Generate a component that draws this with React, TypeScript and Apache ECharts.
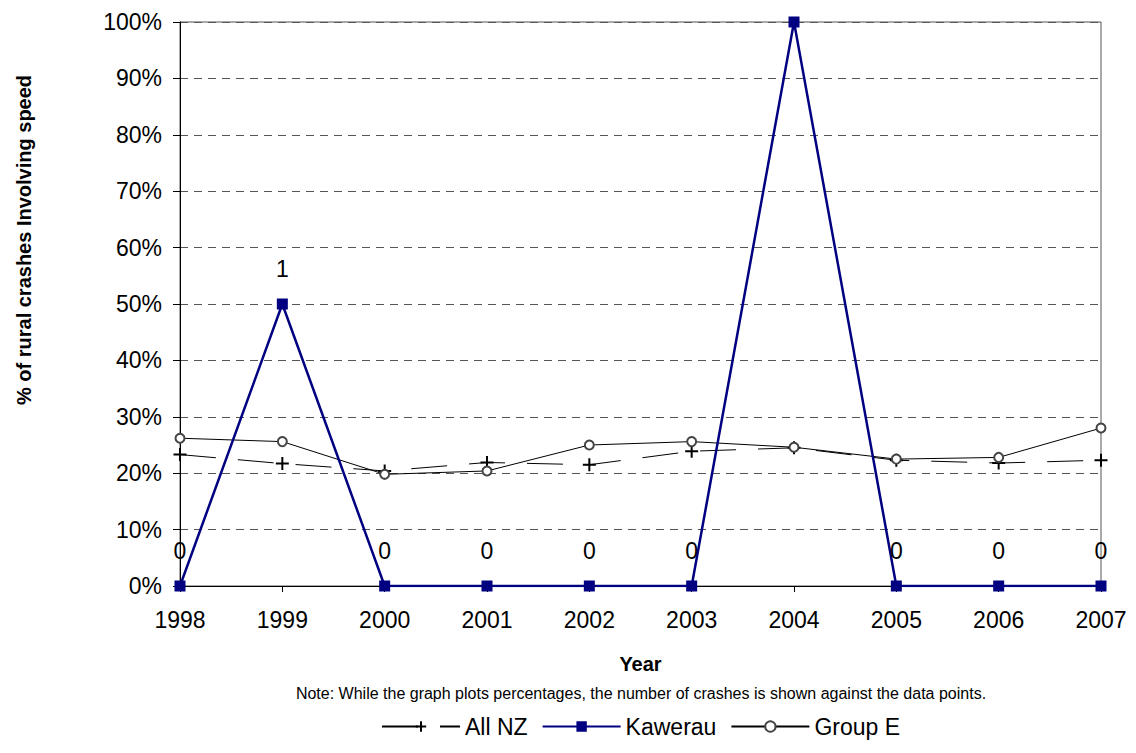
import React, { useEffect, useRef } from "react";
import * as echarts from "echarts";

const years = ["1998", "1999", "2000", "2001", "2002", "2003", "2004", "2005", "2006", "2007"];
const allNZ = [23.3, 21.7, 20.4, 21.9, 21.5, 23.9, 24.5, 22.3, 21.8, 22.3];
const kawerau = [0, 50, 0, 0, 0, 0, 100, 0, 0, 0];
const groupE = [26.2, 25.6, 19.8, 20.4, 25.0, 25.6, 24.6, 22.5, 22.8, 28.0];
const crashCounts = ["0", "1", "0", "0", "0", "0", "", "0", "0", "0"];
const yTicks = { min: 0, max: 100, interval: 10 };

const FONT = "'Liberation Sans', Arial, sans-serif";

export default function App() {
  const ref = useRef<HTMLDivElement>(null);
  useEffect(() => {
    if (!ref.current) return;
    const chart = echarts.init(ref.current, undefined, { renderer: "svg" });
    chart.setOption({
      animation: false,
      backgroundColor: "#ffffff",
      textStyle: { fontFamily: FONT },
      grid: {
        left: 180,
        right: 35,
        top: 22,
        bottom: 167,
        show: true,
        borderColor: "#555555",
        borderWidth: 1,
        backgroundColor: "transparent",
      },
      legend: {
        bottom: 10,
        left: 376,
        itemWidth: 78,
        itemHeight: 13,
        itemGap: 14,
        textStyle: { fontFamily: FONT, fontSize: 23, color: "#000" },
        data: ["All NZ", "Kawerau", "Group E"],
      },
      xAxis: {
        type: "category",
        data: years,
        boundaryGap: false,
        name: "Year",
        nameLocation: "middle",
        nameGap: 68,
        nameTextStyle: { fontFamily: FONT, fontSize: 20, fontWeight: "bold", color: "#000" },
        axisLine: { show: true, lineStyle: { color: "#000", width: 1 } },
        axisTick: { show: true, alignWithLabel: true, length: 6, lineStyle: { color: "#000" } },
        axisLabel: { fontFamily: FONT, fontSize: 23, color: "#000", margin: 22 },
        splitLine: { show: false },
      },
      yAxis: {
        type: "value",
        min: yTicks.min,
        max: yTicks.max,
        interval: yTicks.interval,
        axisLine: { show: true, lineStyle: { color: "#000", width: 1 } },
        axisTick: { show: true, length: 7, lineStyle: { color: "#000" } },
        axisLabel: { fontFamily: FONT, fontSize: 23, color: "#000", margin: 18, formatter: "{value}%" },
        splitLine: { show: true, lineStyle: { color: "#555555", type: [8, 6], width: 1 } },
      },
      graphic: [
        {
          type: "text",
          x: 24,
          y: 240,
          rotation: Math.PI / 2,
          style: {
            text: "% of rural crashes Involving speed",
            font: "bold 20px " + FONT,
            fill: "#000",
            textAlign: "center",
            textVerticalAlign: "middle",
          },
        },
        {
          type: "text",
          x: 641,
          y: 693,
          style: {
            text: "Note: While the graph plots percentages, the number of crashes is shown against the data points.",
            font: "16px " + FONT,
            fill: "#000",
            textAlign: "center",
            textVerticalAlign: "middle",
          },
        },
      ],
      series: [
        {
          name: "All NZ",
          type: "line",
          data: allNZ,
          symbol: "path://M0,6L12,6M6,0L6,12",
          symbolSize: 13,
          itemStyle: { color: "#000", borderColor: "#000", borderWidth: 2 },
          lineStyle: { color: "#000", width: 1, type: [36, 22] },
          z: 2,
        },
        {
          name: "Group E",
          type: "line",
          data: groupE,
          symbol: "emptyCircle",
          symbolSize: 9,
          itemStyle: { color: "#444", borderColor: "#444", borderWidth: 2 },
          lineStyle: { color: "#000", width: 1 },
          z: 3,
        },
        {
          name: "Kawerau",
          type: "line",
          data: kawerau,
          symbol: "rect",
          symbolSize: 11,
          itemStyle: { color: "#000080" },
          lineStyle: { color: "#000080", width: 2.5 },
          z: 4,
          label: {
            show: true,
            position: "top",
            distance: 18,
            fontFamily: FONT,
            fontSize: 23,
            color: "#000",
            formatter: (p: any) => crashCounts[p.dataIndex],
          },
        },
      ],
    });
    return () => chart.dispose();
  }, []);
  return (
    <div
      ref={ref}
      style={{ position: "absolute", left: 0, top: 0, width: 1136, height: 753 }}
    />
  );
}
